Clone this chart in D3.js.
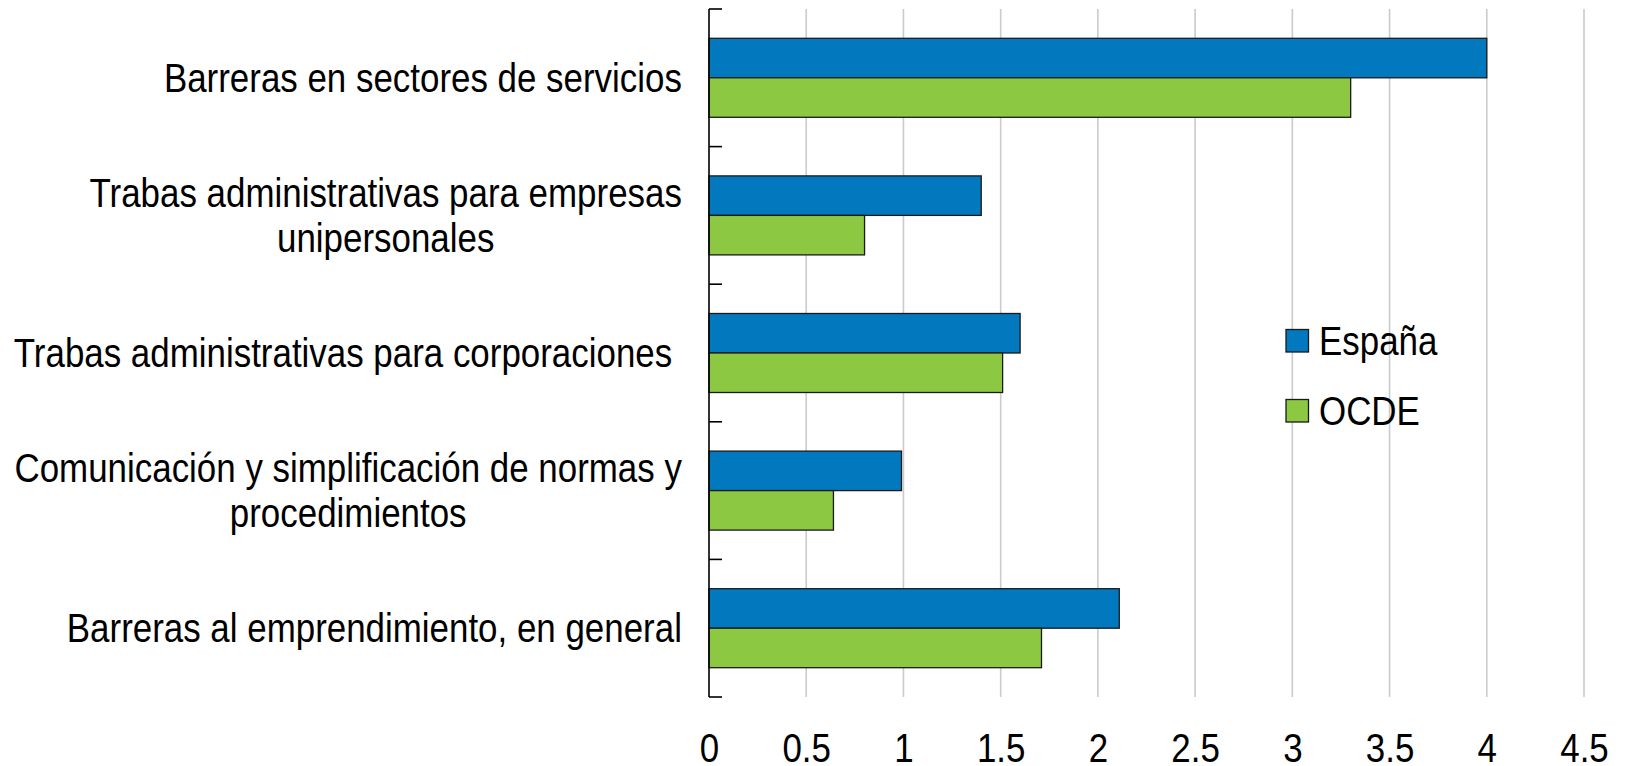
<!DOCTYPE html>
<html>
<head>
<meta charset="utf-8">
<script src="https://cdn.jsdelivr.net/npm/d3@7"></script>
<style>
  html, body { margin: 0; padding: 0; background: #fff; }
  svg text { font-family: 'Liberation Sans', Arial, sans-serif; fill: #000; }
</style>
</head>
<body>
<svg id="chart" width="1625" height="766"></svg>
<script>
const categories = [
  "Barreras en sectores de servicios",
  "Trabas administrativas para empresas unipersonales",
  "Trabas administrativas para corporaciones",
  "Comunicación y simplificación de normas y procedimientos",
  "Barreras al emprendimiento, en general"
];
const categoryLines = [
  ["Barreras en sectores de servicios"],
  ["Trabas administrativas para empresas", "unipersonales"],
  ["Trabas administrativas para corporaciones "],
  ["Comunicación y simplificación de normas y", "procedimientos"],
  ["Barreras al emprendimiento, en general"]
];
const seriesNames = ["España", "OCDE"];
const espana = [4.0, 1.4, 1.6, 0.99, 2.11];
const ocde = [3.3, 0.8, 1.51, 0.64, 1.71];
const xTicks = [0, 0.5, 1, 1.5, 2, 2.5, 3, 3.5, 4, 4.5];
const xTickLabels = ["0", "0.5", "1", "1.5", "2", "2.5", "3", "3.5", "4", "4.5"];
const colors = ["#0279BE", "#8DC843"];

const svg = d3.select("#chart");
const FONT = 40;
const SX = 0.873; // horizontal condensing to mimic a narrow face

const x = d3.scaleLinear().domain([0, 4.5]).range([709, 1584]);
const y = d3.scaleBand().domain(categories).range([9, 697]).padding(0);
const ySub = d3.scaleBand().domain(seriesNames).range([0, y.bandwidth()]).paddingInner(0).paddingOuter(0.742);

// gridlines
svg.append("g").selectAll("line")
  .data(xTicks.filter(d => d > 0))
  .join("line")
  .attr("x1", d => x(d)).attr("x2", d => x(d))
  .attr("y1", 9).attr("y2", 697)
  .attr("stroke", "#cbcbcb").attr("stroke-width", 1.6);

// bars
const data = categories.map((c, i) => ({ c, vals: [espana[i], ocde[i]] }));
const groups = svg.append("g").selectAll("g")
  .data(data).join("g")
  .attr("transform", d => `translate(0,${y(d.c)})`);
groups.selectAll("rect")
  .data(d => d.vals.map((v, j) => ({ s: seriesNames[j], v, j })))
  .join("rect")
  .attr("x", x(0))
  .attr("y", d => ySub(d.s))
  .attr("width", d => x(d.v) - x(0))
  .attr("height", ySub.bandwidth())
  .attr("fill", d => colors[d.j])
  .attr("stroke", "#1a1a1a").attr("stroke-width", 1.3);

// y axis line with inward ticks at band boundaries
const yAxisG = svg.append("g");
yAxisG.append("line")
  .attr("x1", x(0)).attr("x2", x(0))
  .attr("y1", 9).attr("y2", 697)
  .attr("stroke", "#000").attr("stroke-width", 1.6);
const boundaries = categories.map(c => y(c)).concat([y(categories[categories.length - 1]) + y.bandwidth()]);
yAxisG.selectAll("line.tick")
  .data(boundaries).join("line")
  .attr("class", "tick")
  .attr("x1", x(0)).attr("x2", x(0) + 13)
  .attr("y1", d => d).attr("y2", d => d)
  .attr("stroke", "#000").attr("stroke-width", 1.6);

// x tick labels
const xAxis = d3.axisBottom(x).tickValues(xTicks).tickFormat((d, i) => xTickLabels[i]).tickSize(0).tickPadding(0);
const xg = svg.append("g").attr("transform", "translate(0,697)").call(xAxis);
xg.select(".domain").remove();
xg.attr("font-family", null).attr("font-size", null);
xg.selectAll("text")
  .attr("font-size", FONT)
  .attr("dy", null)
  .attr("y", 0)
  .attr("dominant-baseline", "central")
  .attr("transform", `translate(0,51) scale(${SX},1)`);

// category labels
const labelRight = 682;
const lineGap = 45;
categories.forEach((c, i) => {
  const lines = categoryLines[i];
  const cy = y(c) + y.bandwidth() / 2;
  const g = svg.append("g");
  const texts = lines.map((ln, k) => g.append("text")
    .attr("font-size", FONT)
    .style("white-space", "pre")
    .attr("dominant-baseline", "central")
    .attr("text-anchor", "middle")
    .text(ln));
  const maxW = d3.max(texts, t => t.node().getComputedTextLength()) * SX;
  texts.forEach((t, k) => {
    const ty = cy + (k - (lines.length - 1) / 2) * lineGap;
    t.attr("transform", `translate(${labelRight - maxW / 2},${ty}) scale(${SX},1)`);
  });
});

// legend
const legend = svg.append("g");
const legY = [341, 411];
seriesNames.forEach((s, i) => {
  legend.append("rect")
    .attr("x", 1286).attr("y", legY[i] - 11.5)
    .attr("width", 22.5).attr("height", 22.5)
    .attr("fill", colors[i]).attr("stroke", "#1a1a1a").attr("stroke-width", 1.3);
  legend.append("text")
    .attr("dominant-baseline", "central")
    .attr("font-size", FONT)
    .attr("transform", `translate(1319,${legY[i]}) scale(${SX},1)`)
    .text(s);
});
</script>
</body>
</html>
